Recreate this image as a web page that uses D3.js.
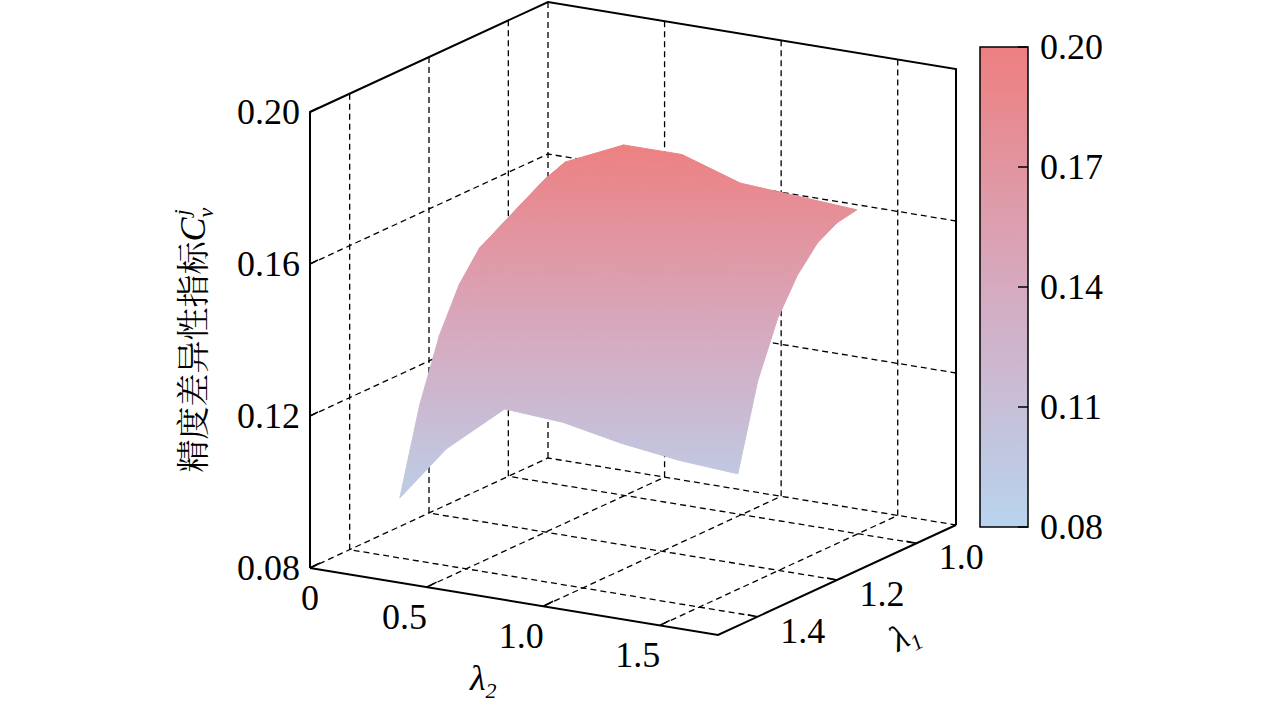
<!DOCTYPE html>
<html><head><meta charset="utf-8">
<script src="https://cdn.jsdelivr.net/npm/d3@7"></script>
<style>body{margin:0;background:#fff}</style>
</head><body>
<svg id="c" width="1276" height="709"></svg>
<script>
// surface grid
const lambda2 = [0.3, 0.5, 0.75, 1.0, 1.25, 1.5, 1.75];
const lambda1 = [1.45, 1.40, 1.35, 1.30, 1.25, 1.20, 1.15];
const cv = [
  [0.099, 0.114, 0.127, 0.126, 0.123, 0.121, 0.120],
  [0.121, 0.137, 0.149, 0.148, 0.145, 0.142, 0.142],
  [0.137, 0.153, 0.162, 0.162, 0.158, 0.156, 0.156],
  [0.148, 0.164, 0.172, 0.172, 0.168, 0.166, 0.165],
  [0.155, 0.170, 0.178, 0.178, 0.173, 0.172, 0.171],
  [0.158, 0.173, 0.181, 0.181, 0.176, 0.174, 0.174],
  [0.159, 0.175, 0.182, 0.182, 0.177, 0.176, 0.175]
];
const zTicks = [0.08, 0.12, 0.16, 0.20];
const l2Ticks = [0, 0.5, 1.0, 1.5];
const l1Ticks = [1.0, 1.2, 1.4];
const cbTicks = [0.08, 0.11, 0.14, 0.17, 0.20];

const svg = d3.select("#c");
const font = "'Liberation Serif', 'Times New Roman', serif";

// projection pieces
const fa = d3.scaleLinear().domain([0, 1.75]).range([0, 1]);
const fb = d3.scaleLinear().domain([1.5, 0.9]).range([0, 1]);
const zs = d3.scaleLinear().domain([0.08, 0.20]).range([0, 456]);
const P = (l2, l1, z) => [310 + fa(l2) * 408 + fb(l1) * 238,
                          568 + fa(l2) * 67 - fb(l1) * 110 - zs(z)];
const color = d3.scaleLinear().domain([0.08, 0.14, 0.20])
  .range(["#b8d4ef", "#d6aac0", "#ee7f80"]);

const line = pts => "M" + pts.map(p => p.join(",")).join("L");
const dashed = (pts) => svg.append("path").attr("d", line(pts))
  .attr("fill", "none").attr("stroke", "#000").attr("stroke-width", 1.3)
  .attr("stroke-dasharray", "6,4");
const solid = (pts) => svg.append("path").attr("d", line(pts))
  .attr("fill", "none").attr("stroke", "#000").attr("stroke-width", 2);

const L2a = 0, L2b = 1.75, L1f = 1.5, L1b = 0.9, Z0 = 0.08, Z1 = 0.20;

// back wall + left wall + floor grid
zTicks.slice(1, 3).forEach(z => {
  dashed([P(L2a, L1f, z), P(L2a, L1b, z), P(L2b, L1b, z)]);
});
l2Ticks.slice(1).forEach(v => {
  dashed([P(v, L1b, Z1), P(v, L1b, Z0), P(v, L1f, Z0)]);
});
l1Ticks.forEach(v => {
  dashed([P(L2a, v, Z1), P(L2a, v, Z0), P(L2b, v, Z0)]);
});
dashed([P(L2a, L1f, Z0), P(L2a, L1b, Z0), P(L2b, L1b, Z0)]);
dashed([P(L2a, L1b, Z0), P(L2a, L1b, Z1)]);

// box outline
solid([P(L2a, L1f, Z0), P(L2a, L1f, Z1), P(L2a, L1b, Z1), P(L2b, L1b, Z1), P(L2b, L1b, Z0)]);
solid([P(L2a, L1f, Z0), P(L2b, L1f, Z0), P(L2b, L1b, Z0)]);

// smooth vertical shading of the surface (colour follows height on screen)
const defs = svg.append("defs");
const sg = defs.append("linearGradient").attr("id", "sg").attr("gradientUnits", "userSpaceOnUse")
  .attr("x1", 0).attr("x2", 0).attr("y1", 530).attr("y2", 140);
[0.08, 0.14, 0.20].forEach(v => sg.append("stop")
  .attr("offset", (v - 0.08) / 0.12).attr("stop-color", color(v)));

// surface quads, back rows first
const quads = [];
for (let i = lambda1.length - 2; i >= 0; i--) {
  for (let j = 0; j < lambda2.length - 1; j++) {
    const zz = [cv[i][j], cv[i][j + 1], cv[i + 1][j + 1], cv[i + 1][j]];
    quads.push([P(lambda2[j], lambda1[i], zz[0]), P(lambda2[j + 1], lambda1[i], zz[1]),
                P(lambda2[j + 1], lambda1[i + 1], zz[2]), P(lambda2[j], lambda1[i + 1], zz[3])]);
  }
}
svg.append("g").selectAll("path").data(quads).enter().append("path")
  .attr("d", d => line(d) + "Z")
  .attr("fill", "url(#sg)")
  .attr("stroke", "url(#sg)")
  .attr("stroke-width", 1)
  .attr("stroke-linejoin", "round");

// tick labels
const txt = (x, y, s, anchor, size) => svg.append("text").attr("x", x).attr("y", y)
  .attr("text-anchor", anchor || "middle").attr("font-family", font)
  .attr("font-size", size || 36).text(s);

zTicks.forEach(z => {
  const p = P(L2a, L1f, z);
  txt(p[0] - 10, p[1] + 12, z.toFixed(2), "end");
  svg.append("line").attr("x1", p[0]).attr("x2", p[0] + 8).attr("y1", p[1]).attr("y2", p[1] - 4)
    .attr("stroke", "#000").attr("stroke-width", 1.5);
});
l2Ticks.forEach(v => {
  const p = P(v, L1f, Z0);
  txt(p[0] + (v === 0 ? 0 : -22), p[1] + 42, v === 0 ? "0" : v.toFixed(1));
  svg.append("line").attr("x1", p[0]).attr("y1", p[1]).attr("x2", p[0] + 10).attr("y2", p[1] - 5)
    .attr("stroke", "#000").attr("stroke-width", 1.5);
});
l1Ticks.forEach(v => {
  const p = P(L2b, v, Z0);
  txt(p[0] + 45, p[1] + 26, v.toFixed(1));
  svg.append("line").attr("x1", p[0]).attr("y1", p[1]).attr("x2", p[0] - 10).attr("y2", p[1] - 2)
    .attr("stroke", "#000").attr("stroke-width", 1.5);
});

// axis titles
svg.append("text").attr("x", 470).attr("y", 690).attr("font-family", font)
  .attr("font-size", 36).attr("font-style", "italic").text("λ")
  .append("tspan").attr("font-size", 22).attr("dy", 8).text("2");
svg.append("text").attr("transform", "translate(898,652) rotate(-30)").attr("font-family", font)
  .attr("font-size", 36).attr("font-style", "italic").text("λ")
  .append("tspan").attr("font-size", 22).attr("dy", 8).text("1");
const yt = svg.append("text").attr("transform", "translate(205,340) rotate(-90)")
  .attr("text-anchor", "middle").attr("font-family", "'Noto Serif CJK SC','Noto Sans CJK SC',serif")
  .attr("font-size", 33).text("精度差异性指标");
yt.append("tspan").attr("font-family", font).attr("font-style", "italic").attr("font-size", 36).text("C");
yt.append("tspan").attr("font-family", font).attr("font-style", "italic").attr("font-size", 22)
  .attr("dy", 8).text("v");
yt.append("tspan").attr("font-family", font).attr("font-style", "italic").attr("font-size", 22)
  .attr("dy", -24).attr("dx", -8).text("j");

// colour bar
const cb = d3.scaleLinear().domain([0.08, 0.20]).range([527, 47]);
const grad = defs.append("linearGradient").attr("id", "g")
  .attr("x1", 0).attr("y1", 1).attr("x2", 0).attr("y2", 0);
[0.08, 0.14, 0.20].forEach(v => grad.append("stop")
  .attr("offset", (v - 0.08) / 0.12).attr("stop-color", color(v)));
svg.append("rect").attr("x", 980).attr("y", 47).attr("width", 48).attr("height", 480)
  .attr("fill", "url(#g)").attr("stroke", "#000").attr("stroke-width", 1.5);
cbTicks.forEach(v => {
  svg.append("line").attr("x1", 1018).attr("x2", 1028).attr("y1", cb(v)).attr("y2", cb(v))
    .attr("stroke", "#000").attr("stroke-width", 1.5);
  txt(1040, cb(v) + 12, v.toFixed(2), "start");
});
</script>
</body></html>
